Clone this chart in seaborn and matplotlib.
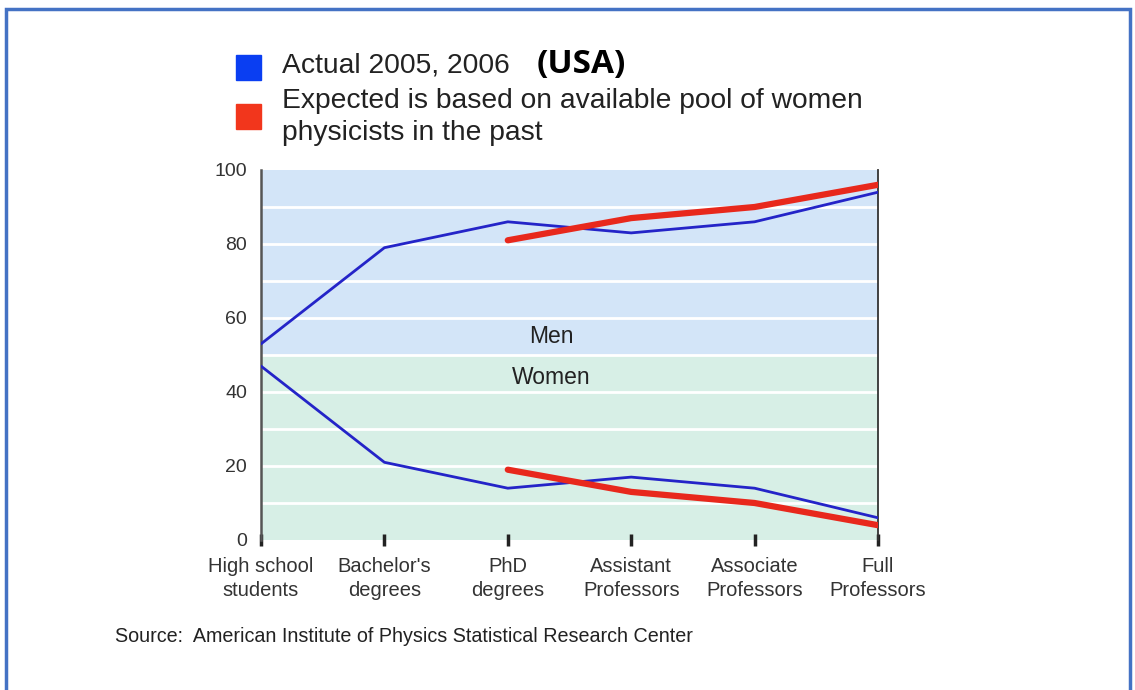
import numpy as np
import pandas as pd
import seaborn as sns
import matplotlib.pyplot as plt
from matplotlib.patches import Rectangle

# data (percent)
categories = ["High school\nstudents", "Bachelor's\ndegrees", "PhD\ndegrees",
              "Assistant\nProfessors", "Associate\nProfessors", "Full\nProfessors"]
men_actual = [53, 79, 86, 83, 86, 94]
women_actual = [47, 21, 14, 17, 14, 6]
expected_cats = categories[2:]
men_expected = [81, 87, 90, 96]
women_expected = [19, 13, 10, 4]

sns.set_style("white")
plt.rcParams['font.family'] = ['Liberation Sans', 'DejaVu Sans']

fig = plt.figure(figsize=(11.35, 6.9), dpi=100)
W, H = 1135, 690
ax = fig.add_axes([261 / W, 1 - 540 / H, (878 - 261) / W, 370 / H])

# background bands
ax.axhspan(50, 100, color="#d3e5f8", zorder=0, lw=0)
ax.axhspan(0, 50, color="#d7efe6", zorder=0, lw=0)
for g in range(10, 100, 10):
    ax.axhline(g, color="white", lw=2, zorder=1)

pos = {c: i for i, c in enumerate(categories)}
blue = "#2424c8"
red = "#e8281c"
df_act = pd.DataFrame({"x": [pos[c] for c in categories],
                       "men": men_actual, "women": women_actual})
df_exp = pd.DataFrame({"x": [pos[c] for c in expected_cats],
                       "men": men_expected, "women": women_expected})

for col in ["men", "women"]:
    sns.lineplot(data=df_act, x="x", y=col, ax=ax, color=blue, lw=2, zorder=3)
    sns.lineplot(data=df_exp, x="x", y=col, ax=ax, color=red, lw=4.5, zorder=4)

ax.set_xlim(0, len(categories) - 1)
ax.set_ylim(0, 100)
ax.set_xlabel("")
ax.set_ylabel("")
ax.set_xticks(range(len(categories)))
ax.set_xticklabels(categories, fontsize=14.5, color="#333333", linespacing=1.3)
ax.set_yticks(range(0, 101, 20))
ax.set_yticklabels([str(v) for v in range(0, 101, 20)], fontsize=14, color="#333333")
ax.tick_params(axis="x", bottom=True, direction="inout", length=9, width=2.5,
               color="#222222", pad=8)
ax.tick_params(axis="y", left=False, length=0, pad=10)

for s in ["top", "bottom"]:
    ax.spines[s].set_visible(False)
ax.spines["left"].set_color("#555555")
ax.spines["left"].set_linewidth(1.8)
ax.spines["right"].set_color("#333333")
ax.spines["right"].set_linewidth(1.3)

ax.text(2.35, 55, "Men", fontsize=16.5, color="#222222", ha="center", va="center")
ax.text(2.35, 44, "Women", fontsize=16.5, color="#222222", ha="center", va="center")

# legend block
fig.patches.append(Rectangle((236 / W, 1 - 80 / H), 25 / W, 25 / H,
                             transform=fig.transFigure, color="#0a3ef2"))
fig.patches.append(Rectangle((236 / W, 1 - 129 / H), 25 / W, 25 / H,
                             transform=fig.transFigure, color="#f2361c"))
fig.text(282 / W, 1 - 66 / H, "Actual 2005, 2006", fontsize=20.3, color="#222222", va="center")
fig.text(537 / W, 1 - 65 / H, "(USA)", fontsize=24, fontweight="bold", color="black",
         va="center", family=["Open Sans", "DejaVu Sans"])
fig.text(282 / W, 1 - 117 / H, "Expected is based on available pool of women\nphysicists in the past",
         fontsize=20.3, color="#222222", va="center", linespacing=1.27)

fig.text(115 / W, 1 - 636 / H, "Source:  American Institute of Physics Statistical Research Center",
         fontsize=14.2, color="#222222", va="center")

# outer frame
fig.patches.append(Rectangle((6 / W, -0.05), 1124 / W, 1 - 9 / H + 0.05,
                             transform=fig.transFigure, fill=False,
                             edgecolor="#4472c4", lw=2.5))

fig.savefig("out.png", dpi=100)
